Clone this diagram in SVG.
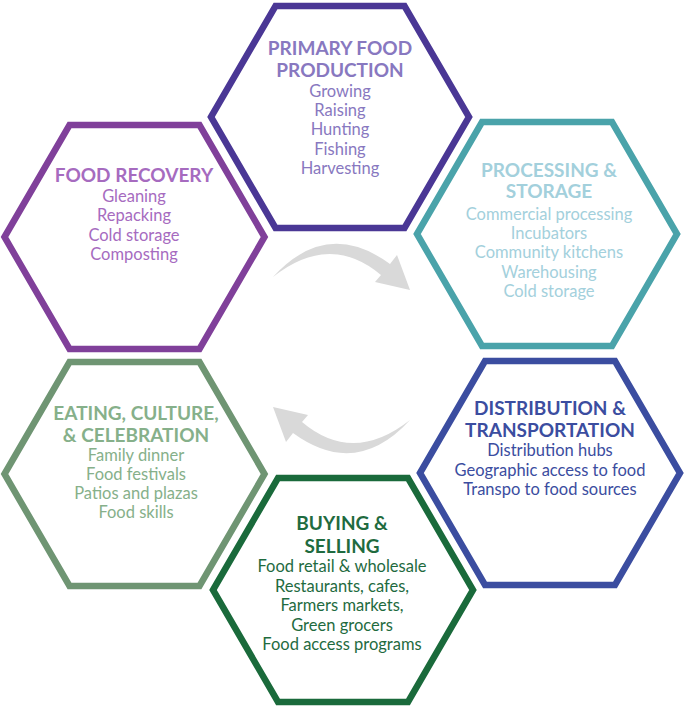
<svg xmlns="http://www.w3.org/2000/svg" width="685" height="708" viewBox="0 0 685 708">
<style>
.hex{fill:#ffffff;stroke-width:6.5;stroke-linejoin:miter}
text{font-family:Lato,"Open Sans","Liberation Sans",sans-serif;text-anchor:middle}
.t{font-weight:bold;font-size:19px}
.b{font-size:16.5px}
.arrow{fill:#d9d9d9}
</style>
<defs>
<path id="arr" d="M273,277 Q327,218 390,264 L397,255 L410,290 L375,282 L381,275 Q330,232 273,277 Z"/>
</defs>
<g id="connectors">
<use href="#arr" class="arrow"/>
<use href="#arr" class="arrow" transform="rotate(180 341.5 348.5)"/>
</g>
<g id="primary">
<polygon class="hex" stroke="#4a3795" points="211,117 275.5,6 404.5,6 469,117 404.5,228 275.5,228"/>
<g fill="#8878c0">
<text class="t" x="340" y="55">PRIMARY FOOD</text>
<text class="t" x="340" y="77">PRODUCTION</text>
<text class="b" x="340" y="97">Growing</text>
<text class="b" x="340" y="116">Raising</text>
<text class="b" x="340" y="135">Hunting</text>
<text class="b" x="340" y="155">Fishing</text>
<text class="b" x="340" y="174">Harvesting</text>
</g>
</g>
<g id="processing">
<polygon class="hex" stroke="#4aa3aa" points="417,234 482,122 612,122 677,234 612,346 482,346"/>
<g fill="#a3d0dc">
<text class="t" x="549" y="177">PROCESSING &amp;</text>
<text class="t" x="549" y="198">STORAGE</text>
<text class="b" x="549" y="220">Commercial processing</text>
<text class="b" x="549" y="239">Incubators</text>
<text class="b" x="549" y="258">Community kitchens</text>
<text class="b" x="549" y="278">Warehousing</text>
<text class="b" x="549" y="297">Cold storage</text>
</g>
</g>
<g id="recovery">
<polygon class="hex" stroke="#80409a" points="4.5,237 69.5,125 199.5,125 264.5,237 199.5,349 69.5,349"/>
<g fill="#a66bbf">
<text class="t" x="134" y="182">FOOD RECOVERY</text>
<text class="b" x="134" y="202">Gleaning</text>
<text class="b" x="134" y="221">Repacking</text>
<text class="b" x="134" y="241">Cold storage</text>
<text class="b" x="134" y="260">Composting</text>
</g>
</g>
<g id="eating">
<polygon class="hex" stroke="#6f9573" points="4.5,474 69.5,362 199.5,362 264.5,474 199.5,586 69.5,586"/>
<g fill="#86b08a">
<text class="t" x="136" y="420">EATING, CULTURE,</text>
<text class="t" x="136" y="442">&amp; CELEBRATION</text>
<text class="b" x="136" y="461">Family dinner</text>
<text class="b" x="136" y="480">Food festivals</text>
<text class="b" x="136" y="499">Patios and plazas</text>
<text class="b" x="136" y="518">Food skills</text>
</g>
</g>
<g id="distribution">
<polygon class="hex" stroke="#3b4da0" points="420,473 485,361 615,361 680,473 615,585 485,585"/>
<g fill="#3b4da0">
<text class="t" x="550" y="415">DISTRIBUTION &amp;</text>
<text class="t" x="550" y="437">TRANSPORTATION</text>
<text class="b" x="550" y="456">Distribution hubs</text>
<text class="b" x="550" y="476">Geographic access to food</text>
<text class="b" x="550" y="495">Transpo to food sources</text>
</g>
</g>
<g id="buying">
<polygon class="hex" stroke="#1a6a3b" points="213,590 278,478 408,478 473,590 408,702 278,702"/>
<g fill="#1f6b3f">
<text class="t" x="342" y="530">BUYING &amp;</text>
<text class="t" x="342" y="553">SELLING</text>
<text class="b" x="342" y="572">Food retail &amp; wholesale</text>
<text class="b" x="342" y="592">Restaurants, cafes,</text>
<text class="b" x="342" y="611">Farmers markets,</text>
<text class="b" x="342" y="631">Green grocers</text>
<text class="b" x="342" y="650">Food access programs</text>
</g>
</g>
</svg>
